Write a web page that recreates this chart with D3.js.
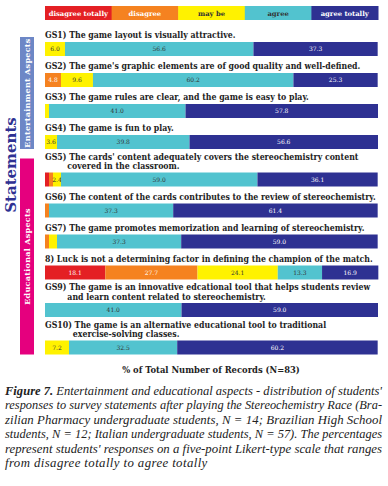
<!DOCTYPE html>
<html>
<head>
<meta charset="utf-8">
<script src="https://cdn.jsdelivr.net/npm/d3@7"></script>
<style>
  body { margin: 0; background: #fff; }
  svg { display: block; }
</style>
</head>
<body>
<svg id="chart"></svg>
<script>
const width = 388;
const height = 486;

// answer categories, in stacking order
const categories = ["disagree totally", "disagree", "may be", "agree", "agree totally"];
const colors = ["#e42024", "#f58220", "#fff200", "#52c3cf", "#2e3192"];
const textColors = ["#fff", "#fff", "#333", "#333", "#fff"];

// statement labels (one entry per line)
const statements = [
    ["GS1) The game layout is visually attractive."],
    ["GS2) The game's graphic elements are of good quality and well-defined."],
    ["GS3) The game rules are clear, and the game is easy to play."],
    ["GS4) The game is fun to play."],
    ["GS5) The cards' content adequately covers the stereochemistry content", "covered in the classroom."],
    ["GS6) The content of the cards contributes to the review of stereochemistry."],
    ["GS7) The game promotes memorization and learning of stereochemistry."],
    ["8) Luck is not a determining factor in defining the champion of the match."],
    ["GS9) The game is an innovative edcational tool that helps students review", "and learn content related to stereochemistry."],
    ["GS10) The game is an alternative educational tool to traditional", "exercise-solving classes."]
];
const prefixes = ["GS1) ", "GS2) ", "GS3) ", "GS4) ", "GS5) ", "GS6) ", "GS7) ", "8) ", "GS9) ", "GS10) "];

// % of records per category
const disagreeTotally = [0, 0, 0, 0, 1.2, 0, 0, 18.1, 0, 0];
const disagree = [0, 4.8, 0, 0, 1.2, 1.2, 1.2, 27.7, 0, 0];
const mayBe = [6.0, 9.6, 1.2, 3.6, 2.4, 0, 2.4, 24.1, 0, 7.2];
const agree = [56.6, 60.2, 41.0, 39.8, 59.0, 37.3, 37.3, 13.3, 41.0, 32.5];
const agreeTotally = [37.3, 25.3, 57.8, 56.6, 36.1, 61.4, 59.0, 16.9, 59.0, 60.2];

const groups = [
    { name: "Entertainment Aspects", first: 0, last: 3, color: "#6d87c6" },
    { name: "Educational Aspects", first: 4, last: 9, color: "#e5007e" }
];

const captionLines = [
    "Entertainment and educational aspects - distribution of students'",
    "responses to survey statements after playing the Stereochemistry Race (Bra-",
    "zilian Pharmacy undergraduate students, N = 14; Brazilian High School",
    "students, N = 12; Italian undergraduate students, N = 57). The percentages",
    "represent students' responses on a five-point Likert-type scale that ranges",
    "from disagree totally to agree totally"
];

const svg = d3.select("#chart").attr("width", width).attr("height", height);
const serif = "'DejaVu Serif', serif";

const x = d3.scaleLinear().domain([0, 100]).range([45, 378]);
const barH = 14;

// rows: stacked values + vertical position
const table = statements.map((s, i) => ({
    label: s, prefix: prefixes[i],
    "disagree totally": disagreeTotally[i], "disagree": disagree[i], "may be": mayBe[i],
    "agree": agree[i], "agree totally": agreeTotally[i]
}));
let rowTop = 42;
table.forEach((d, i) => {
    if (i > 0) rowTop += 31 + 6.5 * (d.label.length - 1);
    d.top = rowTop;
});
const series = d3.stack().keys(categories)(table);

// legend
const legendX = d3.scaleBand().domain(categories).range([45, 378]);
const legend = svg.append("g");
legend.selectAll("rect").data(categories).enter().append("rect")
    .attr("x", d => legendX(d)).attr("y", 6)
    .attr("width", legendX.bandwidth() + 0.5).attr("height", 14)
    .attr("fill", (d, i) => colors[i]);
legend.selectAll("text").data(categories).enter().append("text")
    .attr("x", d => legendX(d) + legendX.bandwidth() / 2).attr("y", 15.5)
    .attr("text-anchor", "middle")
    .style("font", `bold 6.8px ${serif}`)
    .attr("fill", (d, i) => textColors[i])
    .text(d => d);

// group strips
groups.forEach(g => {
    const y0 = table[g.first].top - table[g.first].label.length * 9 + 4;
    const y1 = table[g.last].top + barH;
    svg.append("rect").attr("x", 20).attr("y", y0).attr("width", 14).attr("height", y1 - y0)
        .attr("fill", g.color);
    svg.append("text")
        .attr("transform", `translate(30.3,${(y0 + y1) / 2}) rotate(-90)`)
        .attr("text-anchor", "middle")
        .style("font", `bold 8px ${serif}`)
        .attr("fill", "#fff")
        .attr("letter-spacing", 0.3)
        .text(g.name);
});

svg.append("text")
    .attr("transform", "translate(16,165) rotate(-90)")
    .attr("text-anchor", "middle")
    .style("font", `bold 15px ${serif}`)
    .attr("fill", "#2e3192")
    .text("Statements");

// statement labels (slightly condensed, like the original slab serif)
const squeeze = 0.93;
const labels = svg.append("g")
    .attr("transform", `translate(45,0) scale(${squeeze},1)`)
    .style("font", `bold 8.4px ${serif}`).attr("fill", "#222");
table.forEach(d => {
    const n = d.label.length;
    labels.append("text").attr("x", 0)
        .attr("y", d.top - 3.5 - 9 * (n - 1)).text(d.label[0]);
    if (n > 1) {
        const probe = labels.append("text").text(d.prefix);
        const indent = probe.node().getComputedTextLength();
        probe.remove();
        labels.append("text").attr("x", indent + 1)
            .attr("y", d.top - 3).text(d.label[1]);
    }
});

// bars
const layers = svg.selectAll("g.layer").data(series).enter().append("g")
    .attr("class", "layer").attr("fill", (d, i) => colors[i]);
layers.selectAll("rect").data(d => d).enter().append("rect")
    .attr("x", d => x(d[0])).attr("y", d => d.data.top)
    .attr("width", d => Math.max(0, x(d[1]) - x(d[0])))
    .attr("height", barH);
layers.selectAll("text").data(d => d.filter(p => p[1] - p[0] >= 2.4)).enter().append("text")
    .attr("x", d => (x(d[0]) + x(d[1])) / 2)
    .attr("y", d => d.data.top + barH / 2 + 2)
    .attr("text-anchor", "middle")
    .style("font", `6px ${serif}`)
    .attr("fill", function () {
        const i = series.indexOf(d3.select(this.parentNode).datum());
        return textColors[i];
    })
    .text(d => (d[1] - d[0]).toFixed(1));

// axis title
svg.append("text").attr("x", 211).attr("y", 373)
    .attr("text-anchor", "middle")
    .style("font", `bold 8.4px ${serif}`)
    .attr("fill", "#222")
    .text("% of Total Number of Records (N=83)");

// caption, justified: shrink a line's font if it is too long, then stretch spacing
const capFont = 12.8;
const cap = svg.append("g")
    .style("font-family", "'Liberation Serif', 'Times New Roman', serif")
    .style("font-style", "italic")
    .attr("fill", "#222");
captionLines.forEach((line, i) => {
    const t = cap.append("text").attr("x", 5).attr("y", 395 + i * 14.4)
        .style("font-size", capFont + "px");
    if (i === 0) {
        t.append("tspan").style("font-weight", "bold").text("Figure 7. ");
    }
    t.append("tspan").text(line);
    let natural = t.node().getComputedTextLength();
    const last = i === captionLines.length - 1;
    if (!last && natural > 376) {
        t.style("font-size", (capFont * 376 / natural).toFixed(2) + "px");
        natural = t.node().getComputedTextLength();
    }
    const target = last ? natural * 1.08 : 377;
    if (natural < target) {
        t.attr("textLength", target).attr("lengthAdjust", "spacing");
    }
});
</script>
</body>
</html>
